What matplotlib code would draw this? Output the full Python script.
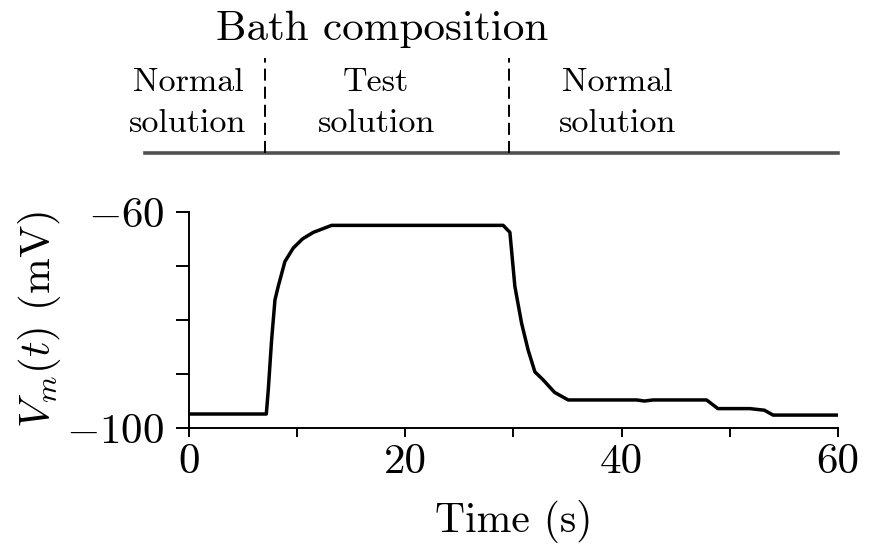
import matplotlib
matplotlib.use("Agg")
import matplotlib.pyplot as plt

plt.rcParams["font.family"] = "serif"
plt.rcParams["font.serif"] = ["cmr10"]
plt.rcParams["mathtext.fontset"] = "cm"
plt.rcParams["axes.unicode_minus"] = False

# membrane potential trace
time_s = [0, 7.15, 7.33, 7.64, 7.95, 8.25, 8.87, 9.64, 10.5, 11.49, 13.19,
          29.05, 29.67, 30.13, 30.75, 31.36, 31.98, 32.75, 33.8, 35.06,
          41.4, 42.1, 42.9, 47.85, 48.9, 51.85, 53.2, 54.0, 60]
vm_mv = [-97.4, -97.4, -93.0, -83.7, -76.3, -73.8, -69.2, -66.7, -65.0, -63.8, -62.5,
         -62.5, -63.8, -73.8, -80.6, -85.6, -89.6, -91.1, -93.4, -94.8,
         -94.8, -95.0, -94.8, -94.8, -96.4, -96.4, -96.7, -97.6, -97.6]

switch_times = [7.0, 29.6]
bath_labels = ["Normal\nsolution", "Test\nsolution", "Normal\nsolution"]
bath_label_x = [-0.1, 17.3, 39.6]

x_ticks = [0, 10, 20, 30, 40, 50, 60]
x_ticklabels = ["0", "", "20", "", "40", "", "60"]
y_ticks = [-100, -90, -80, -70, -60]
y_ticklabels = [r"$-100$", "", "", "", r"$-60$"]

fig = plt.figure(figsize=(8.83, 5.46), dpi=100)
ax = fig.add_axes([0.214, 0.216, 0.735, 0.396])
ax.plot(time_s, vm_mv, color="black", lw=2.5, solid_joinstyle="round")
ax.set_xlim(0, 60)
ax.set_ylim(-100, -60)
for s in ["top", "right"]:
    ax.spines[s].set_visible(False)
for s in ["left", "bottom"]:
    ax.spines[s].set_linewidth(1.4)
ax.set_xticks(x_ticks)
ax.set_xticklabels(x_ticklabels)
ax.set_yticks(y_ticks)
ax.set_yticklabels(y_ticklabels)
ax.tick_params(axis="x", length=6.5, width=1.4, labelsize=31, pad=5)
ax.tick_params(axis="y", length=9.5, width=1.4, labelsize=31, pad=8)
ax.set_xlabel("Time (s)", fontsize=30, labelpad=13)
ax.set_ylabel(r"$V_m(t)$ (mV)", fontsize=31, labelpad=2.5)

# bath composition header
top = fig.add_axes([0.214, 0.707, 0.735, 0.293])
top.set_xlim(0, 60)
top.set_ylim(0, 1)
top.axis("off")
top.plot([-4.1, 60], [0.044, 0.044], color="#505050", lw=2.6, clip_on=False)
for xs in switch_times:
    top.plot([xs, xs], [0.044, 0.64], color="black", lw=1.4,
             ls=(0, (6.2, 3.1)), clip_on=False)
for lab, xl in zip(bath_labels, bath_label_x):
    first, second = lab.split("\n")
    top.text(xl, 0.431, first, ha="center", va="baseline", fontsize=24.5, clip_on=False)
    top.text(xl, 0.175, second, ha="center", va="baseline", fontsize=24.5, clip_on=False)
top.text(17.9, 0.75, "Bath composition", ha="center", va="baseline", fontsize=31)

fig.savefig("out.png", dpi=100)
